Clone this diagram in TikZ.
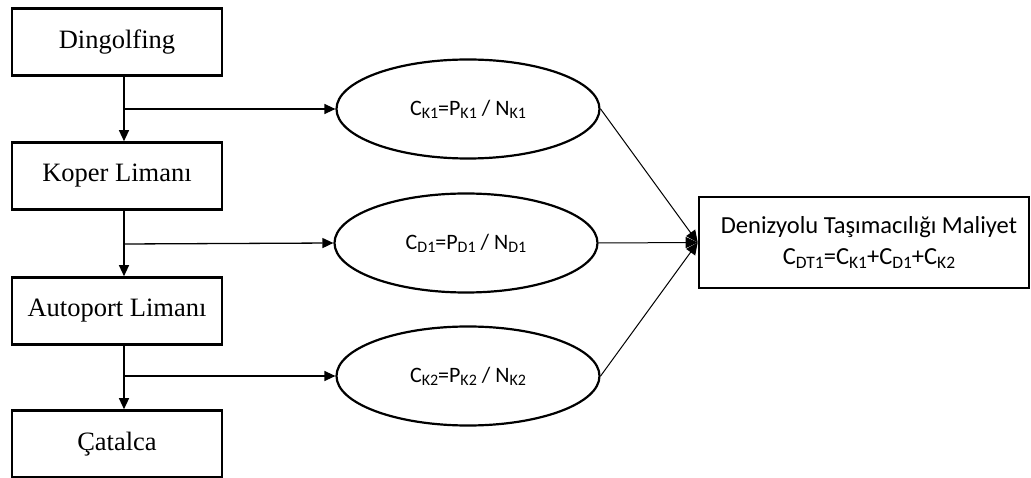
\documentclass[tikz,border=0pt]{standalone}
\usepackage{fontspec}
\setmainfont{Liberation Serif}
\newfontfamily\calib{Carlito}
\usetikzlibrary{arrows.meta,shapes.geometric}
\newcommand{\sbs}[1]{\raisebox{-0.3ex}{\fontsize{16}{16}\selectfont #1}}
\newcommand{\sbt}[1]{\raisebox{-0.3ex}{\fontsize{17.5}{17.5}\selectfont #1}}
\begin{document}
\begin{tikzpicture}[x=1pt,y=-1pt,
  place/.style={draw,line width=2.6pt,minimum width=210pt,minimum height=67pt,inner sep=0pt,font=\fontsize{26.5}{30}\selectfont},
  cost/.style={draw,ellipse,line width=2.2pt,minimum width=263pt,minimum height=99pt,inner sep=0pt,font=\calib\fontsize{22}{26}\selectfont},
  total/.style={draw,line width=2.6pt,minimum width=330pt,minimum height=91pt,inner sep=0pt,align=center,font=\calib\fontsize{24.5}{35}\selectfont},
  flow/.style={line width=1.3pt,-{Triangle[length=11pt,width=10pt]}},
  merge/.style={line width=1pt,-{Triangle[length=12pt,width=11pt]}}]
\useasboundingbox (0,0) rectangle (1031,478);
\node[place] (d) at (117,42) {Dingolfing};
\node[place] (k) at (117,176) {Koper Limanı};
\node[place] (a) at (117,311) {Autoport Limanı};
\node[place] (c) at (117,444) {Çatalca};
\node[cost] (e1) at (468,109) {C\sbs{K1}=P\sbs{K1} / N\sbs{K1}};
\node[cost] (e2) at (466,243) {C\sbs{D1}=P\sbs{D1} / N\sbs{D1}};
\node[cost] (e3) at (468,376) {C\sbs{K2}=P\sbs{K2} / N\sbs{K2}};
\node[total] (t) at (864,242.5) {\hspace*{10pt}Denizyolu Taşımacılığı Maliyet\\[-4pt]\hspace*{10pt}C\sbt{DT1}=C\sbt{K1}+C\sbt{D1}+C\sbt{K2}};
\coordinate (b1) at (124,109);
\coordinate (b2) at (124,244);
\coordinate (b3) at (124,376);
\draw[flow] (d.south -| b1) -- (b1) -- (k.north -| b1);
\draw[flow] (k.south -| b2) -- (b2) -- (a.north -| b2);
\draw[flow] (a.south -| b3) -- (b3) -- (c.north -| b3);
\draw[flow] (b1) -- (e1.west);
\draw[flow] (b2) -- (e2.west);
\draw[flow] (b3) -- (e3.west);
\draw[merge] (e1.east) -- (t.west);
\draw[merge] (e2.east) -- (t.west);
\draw[merge] (e3.east) -- (t.west);
\end{tikzpicture}
\end{document}
